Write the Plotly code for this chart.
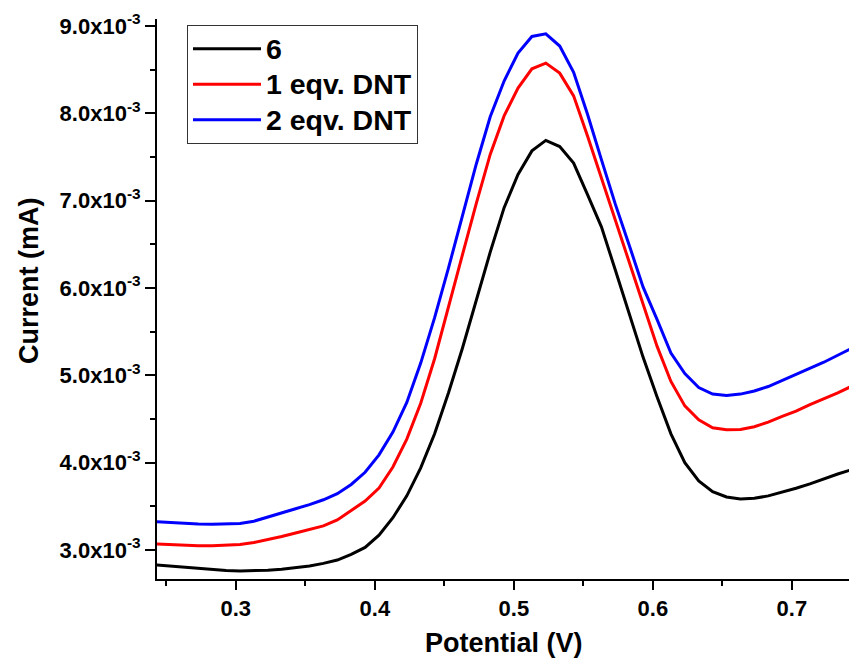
import plotly.graph_objects as go

# Potential (V)
potential = [0.243, 0.253, 0.263, 0.273, 0.283, 0.293, 0.303, 0.313, 0.323, 0.333,
             0.343, 0.353, 0.363, 0.373, 0.383, 0.393, 0.403, 0.413, 0.423, 0.433,
             0.443, 0.453, 0.463, 0.473, 0.483, 0.493, 0.503, 0.513, 0.523, 0.533,
             0.543, 0.553, 0.563, 0.573, 0.583, 0.593, 0.603, 0.613, 0.623, 0.633,
             0.643, 0.653, 0.663, 0.673, 0.683, 0.693, 0.703, 0.713, 0.723, 0.733,
             0.743]

# Current in units of 1e-3 mA
current_6 = [2.828, 2.815, 2.801, 2.788, 2.775, 2.766, 2.760, 2.762, 2.769, 2.780,
             2.796, 2.818, 2.847, 2.885, 2.950, 3.030, 3.170, 3.370, 3.620, 3.940,
             4.330, 4.800, 5.310, 5.860, 6.410, 6.920, 7.300, 7.570, 7.690, 7.620,
             7.430, 7.070, 6.700, 6.206, 5.693, 5.206, 4.755, 4.330, 4.000, 3.790,
             3.667, 3.607, 3.583, 3.592, 3.620, 3.660, 3.707, 3.757, 3.815, 3.870,
             3.920]
current_1eq = [3.068, 3.060, 3.053, 3.050, 3.049, 3.052, 3.062, 3.085, 3.117, 3.155,
               3.195, 3.235, 3.276, 3.345, 3.450, 3.560, 3.710, 3.950, 4.270, 4.680,
               5.190, 5.770, 6.380, 6.970, 7.530, 7.970, 8.290, 8.510, 8.575, 8.460,
               8.200, 7.740, 7.260, 6.780, 6.293, 5.796, 5.334, 4.930, 4.650, 4.490,
               4.400, 4.378, 4.380, 4.412, 4.465, 4.530, 4.590, 4.665, 4.730, 4.800,
               4.875]
current_2eq = [3.324, 3.313, 3.305, 3.298, 3.294, 3.295, 3.303, 3.330, 3.375, 3.420,
               3.473, 3.520, 3.575, 3.645, 3.750, 3.890, 4.090, 4.350, 4.690, 5.140,
               5.660, 6.230, 6.820, 7.420, 7.960, 8.370, 8.690, 8.880, 8.910, 8.770,
               8.470, 7.990, 7.470, 6.960, 6.490, 6.010, 5.640, 5.255, 5.020, 4.860,
               4.786, 4.768, 4.785, 4.820, 4.872, 4.940, 5.005, 5.077, 5.150, 5.230,
               5.310]

series_names = ["6", "1 eqv. DNT", "2 eqv. DNT"]
series_colors = ["#000000", "#ff0000", "#0000ff"]

y_tick_vals = [3.0, 4.0, 5.0, 6.0, 7.0, 8.0, 9.0]
y_tick_text = ["%.1fx10<sup>-3</sup>" % v for v in y_tick_vals]

FONT = "Liberation Sans, Arial, sans-serif"

fig = go.Figure()
for name, ys, col in zip(series_names, [current_6, current_1eq, current_2eq], series_colors):
    fig.add_trace(go.Scatter(
        x=potential, y=[v * 1e-3 for v in ys], mode="lines",
        name='<span style="font-size:28.5px">%s</span>' % name,
        line=dict(color=col, width=3),
    ))

L, T, B = 157, 19, 79
W, H = 849, 658
pw, ph = W - L, H - T - B

fig.update_layout(
    width=W, height=H,
    margin=dict(l=L, r=0, t=T, b=B, pad=0),
    plot_bgcolor="white", paper_bgcolor="white",
    font=dict(family=FONT, color="black"),
    showlegend=True,
    legend=dict(
        x=(187 - L) / pw, y=(H - B - 25) / ph, xanchor="left", yanchor="top",
        bordercolor="#333333", borderwidth=1, bgcolor="white",
        font=dict(family=FONT, size=25, color="black", weight="bold"),
        itemwidth=68, tracegroupgap=0,
    ),
    xaxis=dict(
        range=[0.2433, 0.7411], showgrid=False, zeroline=False,
        showline=True, linecolor="black", linewidth=2,
        ticks="outside", ticklen=9, tickwidth=2, tickcolor="black",
        dtick=0.1, tick0=0.0, tickformat=".1f",
        tickfont=dict(family=FONT, size=22, color="black", weight="bold"),
        minor=dict(dtick=0.05, tick0=0.0, ticks="outside", ticklen=5, tickwidth=2, tickcolor="black"),
    ),
    yaxis=dict(
        range=[2.668e-3, 9.08e-3], showgrid=False, zeroline=False,
        showline=True, linecolor="black", linewidth=2,
        ticks="outside", ticklen=10, tickwidth=2, tickcolor="black",
        tickvals=[v * 1e-3 for v in y_tick_vals], ticktext=y_tick_text,
        tickfont=dict(family=FONT, size=22, color="black", weight="bold"),
        minor=dict(dtick=0.0005, tick0=0.0, ticks="outside", ticklen=5, tickwidth=2, tickcolor="black"),
    ),
    annotations=[
        dict(text="Potential (V)", xref="paper", yref="paper",
             x=(504 - L) / pw, y=-(643 - (H - B)) / ph, xanchor="center", yanchor="middle",
             showarrow=False, font=dict(family=FONT, size=27, color="black", weight="bold")),
        dict(text="Current (mA)", xref="paper", yref="paper", textangle=-90,
             x=(29 - L) / pw, y=((H - B) - 281) / ph, xanchor="center", yanchor="middle",
             showarrow=False, font=dict(family=FONT, size=27, color="black", weight="bold")),
    ],
)

fig.write_html("out.html")
